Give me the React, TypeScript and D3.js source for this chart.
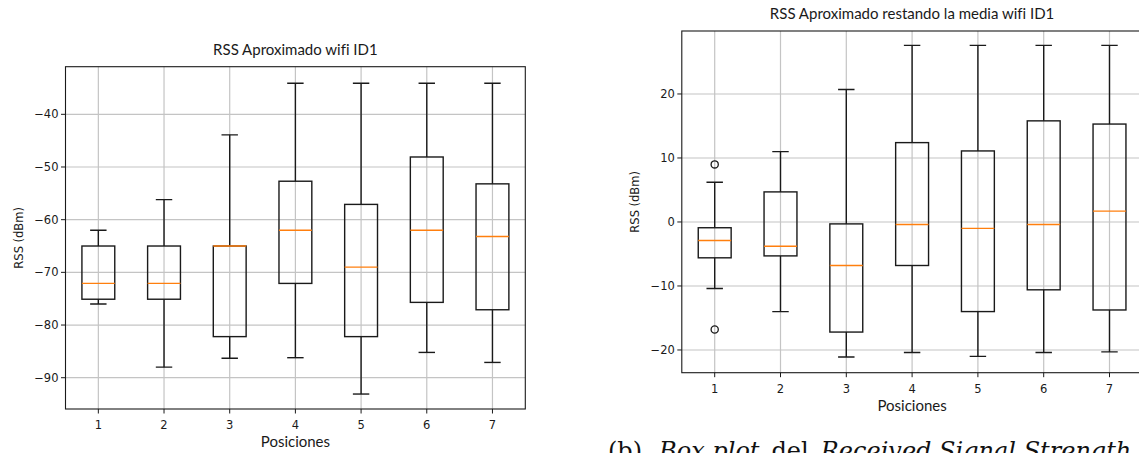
import React from "react";
import * as d3 from "d3";

// posiciones 1..7
const positions = [1, 2, 3, 4, 5, 6, 7];

// RSS Aproximado wifi ID1
const rssLow = [-76, -88, -86.3, -86.2, -93.1, -85.2, -87.1];
const rssQ1 = [-75.1, -75.1, -82.2, -72.1, -82.2, -75.7, -77.1];
const rssMedian = [-72.1, -72.1, -65, -62, -69, -62, -63.2];
const rssQ3 = [-65, -65, -65, -52.7, -57.1, -48.1, -53.2];
const rssHigh = [-62, -56.2, -43.9, -34.1, -34.1, -34.1, -34.1];
const rssTicks = [-40, -50, -60, -70, -80, -90];

// RSS Aproximado restando la media wifi ID1
const subLow = [-10.4, -14.0, -21.1, -20.4, -21.0, -20.4, -20.3];
const subQ1 = [-5.6, -5.3, -17.2, -6.8, -14.0, -10.6, -13.75];
const subMedian = [-2.9, -3.8, -6.8, -0.4, -1.0, -0.4, 1.7];
const subQ3 = [-0.9, 4.7, -0.3, 12.4, 11.1, 15.8, 15.3];
const subHigh = [6.2, 11.0, 20.7, 27.6, 27.6, 27.6, 27.6];
const subOutlierPos = [1, 1];
const subOutlierVal = [9.0, -16.8];
const subTicks = [20, 10, 0, -10, -20];

const tickFont = "'DejaVu Sans', sans-serif";
const titleFont = "Lato, 'Open Sans', sans-serif";

type BoxProps = {
  left: number;
  right: number;
  top: number;
  bottom: number;
  domain: [number, number];
  ticks: number[];
  low: number[];
  q1: number[];
  median: number[];
  q3: number[];
  high: number[];
  outPos?: number[];
  outVal?: number[];
  title: string;
};

const fmt = (v: number) => (v < 0 ? "\u2212" + Math.abs(v) : String(v));

const BoxPanel = (p: BoxProps) => {
  const x = d3.scaleLinear().domain([0.5, 7.5]).range([p.left, p.right]);
  const y = d3.scaleLinear().domain(p.domain).range([p.bottom, p.top]);
  const hw = x(1.25) - x(1); // half box width (0.5 wide)
  const cw = hw / 2;
  const stroke = "#1a1a1a";
  const midX = (p.left + p.right) / 2;
  const midY = (p.top + p.bottom) / 2;

  return (
    <g>
      <defs>
        <clipPath id={"clip" + p.left}>
          <rect x={p.left} y={p.top} width={p.right - p.left} height={p.bottom - p.top} />
        </clipPath>
      </defs>
      {/* grid */}
      <g stroke="#c4c4c4" strokeWidth={1.2}>
        {positions.map((d) => (
          <line key={"gx" + d} x1={x(d)} x2={x(d)} y1={p.top} y2={p.bottom} />
        ))}
        {p.ticks.map((t) => (
          <line key={"gy" + t} x1={p.left} x2={p.right} y1={y(t)} y2={y(t)} />
        ))}
      </g>
      {/* boxes */}
      <g clipPath={`url(#clip${p.left})`} fill="none">
        {positions.map((d, i) => (
          <g key={"b" + d}>
            <line x1={x(d)} x2={x(d)} y1={y(p.q3[i])} y2={y(p.high[i])} stroke={stroke} strokeWidth={1.4} />
            <line x1={x(d)} x2={x(d)} y1={y(p.q1[i])} y2={y(p.low[i])} stroke={stroke} strokeWidth={1.4} />
            <line x1={x(d) - cw} x2={x(d) + cw} y1={y(p.high[i])} y2={y(p.high[i])} stroke={stroke} strokeWidth={1.4} />
            <line x1={x(d) - cw} x2={x(d) + cw} y1={y(p.low[i])} y2={y(p.low[i])} stroke={stroke} strokeWidth={1.4} />
            <rect
              x={x(d) - hw}
              y={y(p.q3[i])}
              width={hw * 2}
              height={y(p.q1[i]) - y(p.q3[i])}
              stroke={stroke}
              strokeWidth={1.4}
            />
            <line x1={x(d) - hw} x2={x(d) + hw} y1={y(p.median[i])} y2={y(p.median[i])} stroke="#ff7f0e" strokeWidth={1.4} />
          </g>
        ))}
        {(p.outPos || []).map((d, i) => (
          <circle key={"o" + i} cx={x(d)} cy={y(p.outVal![i])} r={3.6} stroke={stroke} strokeWidth={1.3} />
        ))}
      </g>
      {/* frame */}
      <rect x={p.left} y={p.top} width={p.right - p.left} height={p.bottom - p.top} fill="none" stroke="#1a1a1a" strokeWidth={1.1} />
      {/* ticks */}
      <g fontFamily={tickFont} fontSize={11.5} fill="#1a1a1a">
        {p.ticks.map((t) => (
          <g key={"yt" + t}>
            <line x1={p.left - 4.5} x2={p.left} y1={y(t)} y2={y(t)} stroke="#1a1a1a" strokeWidth={1} />
            <text x={p.left - 7} y={y(t)} dy="0.35em" textAnchor="end">{fmt(t)}</text>
          </g>
        ))}
        {positions.map((d) => (
          <g key={"xt" + d}>
            <line x1={x(d)} x2={x(d)} y1={p.bottom} y2={p.bottom + 4.5} stroke="#1a1a1a" strokeWidth={1} />
            <text x={x(d)} y={p.bottom + 20} textAnchor="middle">{d}</text>
          </g>
        ))}
        <text transform={`translate(${p.left - 43},${midY}) rotate(-90)`} textAnchor="middle">RSS (dBm)</text>
      </g>
      <text x={midX} y={p.top - 12} textAnchor="middle" fontFamily={titleFont} fontSize={15} fill="#1a1a1a"
        style={{ fontVariantLigatures: "none" }}>{p.title}</text>
      <text x={midX} y={p.bottom + 38} textAnchor="middle" fontFamily={titleFont} fontSize={15} fill="#1a1a1a">Posiciones</text>
    </g>
  );
};

export default function App() {
  return (
    <div style={{ position: "absolute", left: 0, top: 0 }}>
      <svg width={1139} height={453} style={{ display: "block", background: "#fff" }}>
        <BoxPanel
          left={65.5}
          right={525.3}
          top={66.7}
          bottom={409}
          domain={[-95.94, -30.96]}
          ticks={rssTicks}
          low={rssLow}
          q1={rssQ1}
          median={rssMedian}
          q3={rssQ3}
          high={rssHigh}
          title="RSS Aproximado wifi ID1"
        />
        <BoxPanel
          left={681.8}
          right={1142.4}
          top={31}
          bottom={372.7}
          domain={[-23.55, 29.84]}
          ticks={subTicks}
          low={subLow}
          q1={subQ1}
          median={subMedian}
          q3={subQ3}
          high={subHigh}
          outPos={subOutlierPos}
          outVal={subOutlierVal}
          title="RSS Aproximado restando la media wifi ID1"
        />
        {/* figure caption, cut by the bottom edge as in the source */}
        <text x={608} y={459} fontFamily="'DejaVu Serif', serif" fontSize={24} fill="#111">
          <tspan>(b)</tspan>
          <tspan dx={17} fontStyle="italic">Box plot</tspan>
          <tspan dx={12}>del</tspan>
          <tspan dx={12} fontStyle="italic">Received Signal Strength Indicator</tspan>
        </text>
      </svg>
    </div>
  );
}
